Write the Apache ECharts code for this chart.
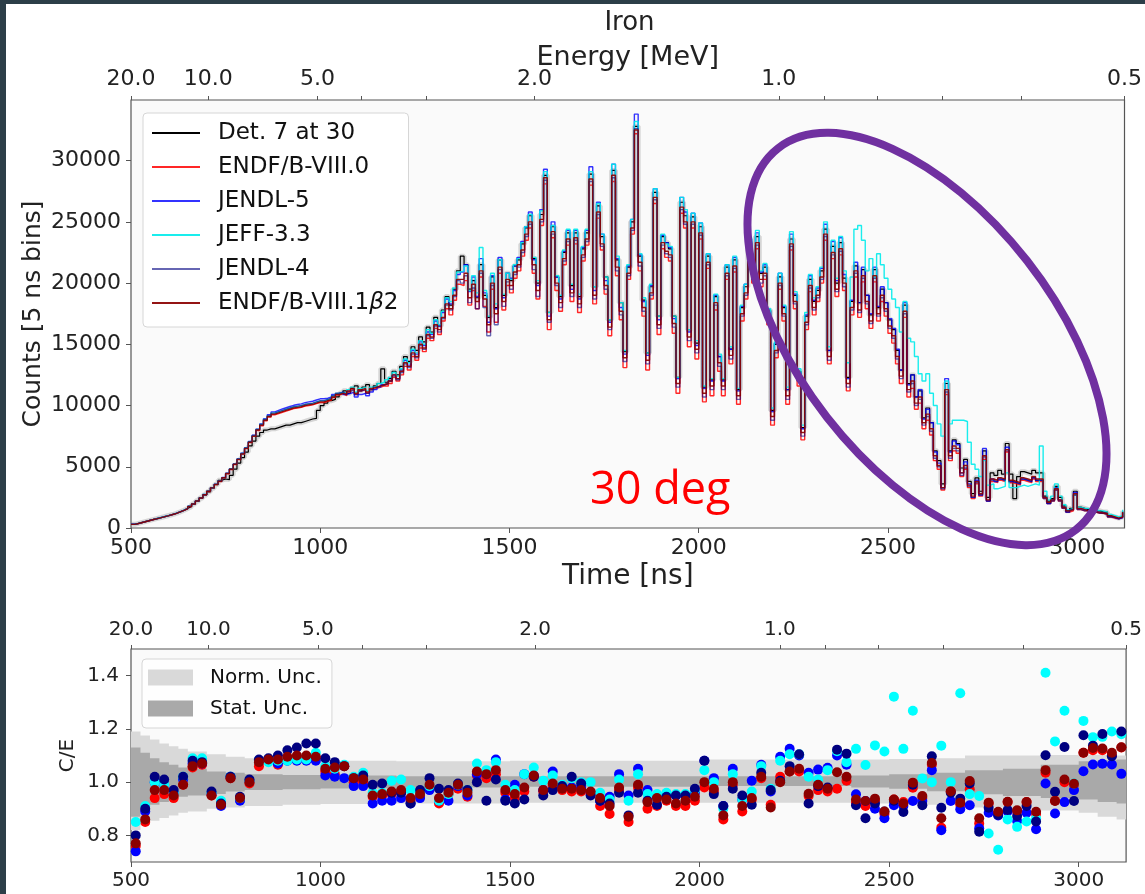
<!DOCTYPE html>
<html>
<head>
<meta charset="utf-8">
<script src="https://cdn.jsdelivr.net/npm/echarts@6/dist/echarts.min.js"></script>
<style>
html,body{margin:0;padding:0;background:#ffffff;}
#chart{width:1145px;height:894px;}
</style>
</head>
<body>
<div id="chart"></div>
<script>
// ---------------- DATA ----------------
// top panel: counts per bin, one value every 10 ns starting at 500 ns
const timeStart = 500;
const timeStep = 10;
const detCounts = [
300,380,460,540,620,700,780,860,940,1020,
1100,1200,1320,1450,1600,1750,1950,2200,2450,2700,
2950,3250,3550,3900,4000,3950,4300,4800,5300,5750,
6200,6700,7100,7500,7800,8000,8100,8100,8200,8300,
8400,8400,8500,8600,8600,8700,8800,8900,8950,9600,
10000,10200,10400,10500,10700,11000,11200,11000,11400,11600,
11200,11500,11700,11300,11600,11800,13000,11900,12200,12800,
12500,13200,14000,13600,14800,14500,15600,15200,16400,16000,
17200,16500,17800,18900,18200,19500,21000,22200,21500,19500,
20200,18800,21500,19000,17200,20500,18000,21900,19000,20800,
20200,21400,21900,23200,24500,25500,22000,20000,25600,28800,
17600,24600,20500,18900,22500,24100,19800,24100,18900,22800,
24100,28900,19700,26300,23800,20500,17000,29200,21900,18400,
14400,21300,25000,32800,22200,18600,14300,19700,27400,17300,
23800,23300,22800,17300,12300,26600,25500,16200,25400,15100,
24600,11500,22200,12100,18900,14000,12100,21300,14600,21900,
11300,18000,19700,23300,21000,23800,20800,21300,17800,9600,
15000,20500,18000,11300,23600,19000,12800,8200,17300,20300,
18500,19400,21000,24400,14500,23000,20000,23300,20400,12300,
18500,21400,18400,21100,19000,17400,21100,18000,19500,18400,
17000,16200,14500,12900,18200,11800,12500,10700,11200,9000,
9800,8600,6300,5500,3600,11800,6300,7200,6900,4900,
5600,3800,2800,4100,3000,6300,2500,4500,4300,4700,
4400,6900,4400,2400,4200,4600,4500,4400,4700,4500,
4500,2600,2200,2400,3400,2500,1800,1400,1600,3000,
1700,1600,1500,1500,1400,1400,1300,1300,1000,900,
800,900,1400];

const endf80Counts = [
300,370,450,530,610,690,770,850,930,1010,
1100,1200,1310,1440,1590,1760,1960,2200,2450,2720,
2980,3260,3540,3800,4080,4420,4780,5180,5580,6020,
6480,6980,7480,7950,8350,8750,9050,9250,9350,9450,
9550,9650,9750,9800,9850,9950,10000,10050,10150,10250,
10250,10350,10450,10650,10850,10950,10800,11100,11300,10900,
11200,11300,11000,11300,11400,11500,11600,11600,11800,12300,
12000,12500,13200,12900,14000,13700,14700,14400,15500,15300,
16300,15800,16900,17900,17400,18600,19900,19800,20200,18200,
19400,17900,20500,18100,16000,19500,16800,20800,17800,19800,
19200,20400,21000,22200,23500,24500,20800,18700,24700,28100,
16200,23700,19400,17700,21500,23100,18500,23200,17600,21800,
23100,28000,18300,25300,22700,19100,15700,28300,20600,17000,
13100,20300,24000,32200,21000,17300,12900,18700,26500,15800,
22800,22100,21800,15900,11000,25700,24500,14800,24500,13800,
23600,10300,21200,10800,17800,12800,10800,20300,13400,20900,
10100,16900,18700,22300,20000,22800,19700,20300,16600,8400,
13900,19500,16900,10100,22700,17900,11600,7200,16200,19300,
17400,18500,20000,23500,13400,22000,18900,22300,19400,11200,
17400,20500,17200,20100,17900,16300,20100,16900,18500,17300,
15900,15100,13400,11800,17200,10700,11400,9700,10200,8100,
8800,7600,5500,4800,3100,10900,5500,6300,6100,4200,
4800,3300,2400,3600,2600,5600,2200,3800,3700,3900,
3800,6200,3700,3600,3500,3900,3800,3700,4000,3800,
3800,2400,2000,2200,3100,2200,1600,1300,1400,2700,
1500,1400,1400,1300,1300,1200,1200,1100,900,800,
750,850,1250];

const jendl5Counts = [
310,380,460,540,620,700,780,860,940,1020,
1110,1210,1320,1450,1600,1770,1970,2210,2460,2730,
3010,3290,3570,3840,4120,4470,4830,5230,5640,6100,
6560,7060,7570,8070,8500,8920,9250,9480,9600,9720,
9820,9920,10020,10080,10140,10240,10300,10350,10450,10550,
10550,10600,10700,10900,11000,11100,10900,11000,11100,10700,
10900,11000,10800,11100,11300,11500,11700,11800,12000,12500,
12200,12900,13700,13300,14500,14200,15200,14900,16000,15800,
16900,16500,17600,18700,18300,19400,20700,20900,21500,19300,
20500,18900,22000,19200,16800,20600,17900,22100,18800,20800,
20400,21400,22100,23400,24600,25800,21900,19800,26000,29300,
17300,25000,20500,18700,22600,24300,19500,24300,18700,22900,
24300,29500,19400,26600,24000,20200,16800,29700,22000,18000,
14200,21400,25200,33800,22300,18500,14100,19800,27700,17000,
23900,23300,22900,17100,12200,27000,25800,16000,25700,14900,
24900,11400,22400,12000,19000,14000,12000,21500,14600,22100,
11200,18100,19900,23600,21100,24100,20900,21500,17700,9500,
15100,20800,18100,11300,24000,19100,12700,8100,17400,20600,
18600,19600,21200,24800,14500,23400,20200,23700,20700,12200,
18600,21700,18400,21300,19000,17500,21300,18100,19700,18400,
17100,16300,14600,12900,18400,11700,12500,10700,11300,8900,
9700,8600,6200,5300,3300,12200,6200,7100,6800,4500,
5400,3600,2500,3900,2700,6500,2200,4000,3800,4000,
3900,6600,3800,3700,3600,4000,3900,3800,4100,3900,
3900,2500,2000,2300,3300,2300,1700,1300,1500,2900,
1600,1500,1400,1400,1300,1300,1200,1200,950,850,
750,850,1300];

const jeff33Counts = [
300,380,460,540,620,700,780,860,940,1020,
1110,1210,1320,1450,1600,1770,1970,2210,2460,2730,
3000,3280,3560,3830,4110,4460,4820,5220,5620,6080,
6540,7040,7540,8040,8460,8860,9160,9380,9480,9580,
9680,9780,9880,9930,9980,10080,10130,10180,10280,10380,
10380,10480,10580,10780,10980,11080,11000,11300,11500,11100,
11400,11500,11200,11500,11600,11800,11900,12100,12300,12700,
12400,13000,13800,13500,14600,14300,15300,15000,16200,15900,
17000,16600,17700,18800,18500,19600,20900,21000,21400,19400,
20600,19200,22900,19400,17300,20800,18300,21900,19100,20800,
20300,21500,22000,23300,24600,25600,22100,20200,25900,29100,
17600,24700,20600,19000,22700,24400,19900,24400,19100,23000,
24400,29100,19700,26500,24000,20500,17000,29700,22200,18400,
14500,21500,25200,33200,22400,18800,14300,19900,27700,17300,
24000,23200,23000,17300,12300,27000,26000,16200,25700,15300,
24900,11600,22400,12200,19100,14200,12200,21500,14800,22200,
11400,18200,19900,23700,21200,24300,21000,21600,17900,9800,
15200,20800,18200,11500,24200,19300,13000,8400,17600,20700,
18800,19700,21300,25000,14800,23500,20400,23800,21000,13500,
20500,24400,24700,23500,21000,22000,20500,22400,21500,20400,
19500,18700,18000,16000,18500,15500,15200,14000,12600,12000,
12600,11000,10000,8500,7500,12000,8500,8800,8800,8800,
8700,7000,5200,4800,4200,5500,3500,3600,3200,3300,
3400,4500,3300,3300,3400,3500,3400,3500,3600,3500,
6700,3000,2300,2600,3600,2600,1900,1500,1600,2700,
1700,1600,1600,1500,1500,1400,1400,1300,1100,1000,
900,1000,1500];

const jendl4Counts = [
300,370,450,530,610,690,770,850,930,1010,
1100,1200,1310,1440,1590,1760,1960,2200,2450,2720,
3000,3280,3560,3830,4110,4460,4820,5220,5630,6080,
6540,7050,7550,8050,8450,8850,9150,9380,9500,9600,
9700,9800,9900,9950,10000,10100,10150,10200,10300,10400,
10400,10500,10600,10800,11000,11100,10950,11150,11300,10900,
11200,11300,11000,11300,11500,11600,11700,11800,12000,12400,
12100,12700,13400,13100,14200,13900,14900,14600,15700,15500,
16500,16000,17100,18200,17800,18900,20200,20000,20600,18400,
19600,17900,20800,18000,15700,19800,16600,21100,18100,20100,
19500,20700,21300,22500,23800,24800,21100,18900,25000,28400,
16800,24000,19800,18000,21800,23400,18900,23500,18000,22100,
23400,28300,18700,25600,23000,19500,16200,28600,21000,17400,
13600,20600,24300,32600,21400,17700,13400,19000,26800,16300,
23100,22400,22100,16400,11500,26000,24800,15300,24800,14300,
23900,10700,21500,11300,18200,13200,11300,20600,13800,21200,
10500,17300,19000,22600,20300,23100,20000,20600,17000,8800,
14300,19800,17300,10500,23000,18300,12000,7500,16600,19600,
17800,18800,20300,23800,13700,22300,19300,22600,19700,11500,
17800,20800,17600,20400,18300,16700,20400,17300,18800,17700,
16300,15500,13800,12200,17500,11100,11800,10000,10500,8400,
9100,7900,5700,5000,3200,11100,5700,6500,6300,4300,
4900,3400,2500,3700,2700,5800,2200,3900,3800,4000,
3900,6300,3800,3700,3600,4000,3900,3800,4100,3900,
3900,2400,2000,2200,3100,2200,1600,1300,1500,2700,
1500,1400,1400,1300,1300,1200,1200,1100,900,850,
750,850,1250];

const endf81b2Counts = [
300,370,450,530,610,690,770,850,930,1010,
1100,1200,1310,1440,1590,1760,1960,2200,2450,2720,
3000,3280,3560,3820,4100,4450,4800,5200,5600,6050,
6500,7000,7500,8000,8400,8800,9100,9300,9400,9500,
9600,9700,9800,9850,9900,10000,10050,10100,10200,10300,
10300,10400,10500,10700,10900,11000,10900,11200,11400,11000,
11300,11400,11100,11400,11500,11600,11700,11800,12000,12500,
12200,12800,13500,13200,14300,14000,15000,14700,15800,15600,
16600,16200,17200,18300,17900,19000,20300,20300,20800,18800,
19900,18500,21000,18700,16600,20000,17500,21300,18500,20300,
19800,20900,21500,22700,24000,25000,21500,19400,25200,28600,
17000,24200,20000,18400,22000,23600,19200,23700,18300,22300,
23600,28500,19000,25800,23200,19800,16400,28800,21300,17700,
13900,20800,24500,32500,21700,18000,13700,19200,27000,16600,
23300,22600,22300,16700,11800,26200,25000,15600,25000,14600,
24100,11000,21700,11600,18400,13500,11600,20800,14100,21400,
10800,17500,19200,22800,20500,23300,20300,20800,17300,9100,
14500,20000,17500,10800,23200,18500,12300,7800,16800,19800,
18000,19000,20500,24000,14000,22500,19500,22800,20000,11800,
18000,21000,17800,20600,18500,16900,20600,17500,19000,17900,
16500,15700,14000,12400,17700,11300,12000,10200,10700,8600,
9300,8100,5900,5100,3300,11300,5900,6700,6500,4500,
5100,3500,2600,3800,2800,5900,2300,4000,3900,4100,
4000,6400,3900,3800,3700,4100,4000,3900,4200,4000,
4000,2500,2100,2300,3200,2300,1700,1400,1500,2800,
1600,1500,1400,1400,1300,1300,1200,1200,1000,900,
800,900,1300];

// bottom panel: C/E per 25 ns bin, first bin starts at 500 ns
const ceBinStart = 500;
const ceBinWidth = 25;
const ceEndf80 = [0.76,0.85,0.94,0.955,0.94,0.99,1.055,1.065,0.95,0.915,
1.015,0.94,0.995,1.06,1.08,1.065,1.085,1.09,1.095,1.09,
1.04,1.03,1.06,1.0,1.0,0.945,0.95,0.955,0.96,0.93,
0.95,0.98,0.92,0.955,0.975,0.945,1.025,1.015,1.03,0.96,
0.94,0.965,1.02,0.965,0.985,0.97,0.965,0.965,0.955,0.91,
0.88,0.97,0.85,0.98,0.9,0.91,0.93,0.91,0.91,0.93,
0.98,0.965,0.86,0.99,0.89,0.935,1.015,0.915,1.02,1.04,
1.04,0.948,0.97,0.965,0.975,1.005,0.923,0.91,0.93,0.88,
0.935,0.925,0.979,0.94,1.065,0.829,0.965,0.915,0.973,0.845,
0.92,0.885,0.925,0.89,0.925,0.88,1.035,0.93,1.0,0.99,
1.11,1.12,1.12,1.1,1.13];
const ceJendl5 = [0.74,0.89,1.0,0.99,0.96,1.01,1.07,1.07,0.955,0.91,
1.02,0.93,1.005,1.08,1.085,1.07,1.08,1.08,1.08,1.08,
1.025,1.02,1.015,0.985,0.985,0.92,0.93,0.93,0.94,0.92,
0.94,0.97,0.93,0.93,0.985,0.95,1.03,1.03,1.085,0.935,
0.99,1.03,1.025,0.97,1.04,0.98,0.98,0.98,0.96,0.93,
0.945,1.03,0.95,1.05,0.97,0.945,0.955,0.95,0.95,0.96,
1.08,1.015,0.91,1.05,0.935,1.005,1.065,0.965,1.095,1.125,
1.1,1.035,1.047,1.054,1.1,1.065,0.954,0.929,0.9,0.864,
0.913,0.91,0.929,0.929,1.045,0.819,0.929,0.898,0.913,0.827,
0.885,0.875,0.89,0.854,0.885,0.823,0.995,0.882,0.925,0.97,
1.041,1.066,1.069,1.066,1.031];
const ceJeff33 = [0.85,0.91,1.0,0.99,0.96,1.02,1.09,1.09,0.96,0.93,
1.02,0.94,1.005,1.08,1.075,1.08,1.08,1.085,1.085,1.11,
1.06,1.05,1.065,1.02,1.035,0.96,0.96,1.005,1.01,0.97,
0.96,0.985,0.93,0.955,0.99,0.97,1.07,1.045,1.075,0.99,
0.97,1.03,1.055,1.005,1.025,0.99,1.015,1.0,1.0,0.96,
0.935,1.01,0.93,1.03,0.955,0.955,0.96,0.955,0.955,0.97,
1.045,1.0,0.9,1.03,0.935,0.965,1.06,0.975,1.08,1.105,
1.105,1.02,1.01,1.045,1.116,1.075,1.125,1.064,1.138,1.115,
1.321,1.125,1.268,1.014,1.0,1.137,1.0,1.334,0.955,0.948,
0.807,0.746,0.86,0.832,0.852,0.864,1.411,1.153,1.268,0.995,
1.23,1.169,1.17,1.19,1.18];
const ceJendl4 = [0.80,0.90,1.02,1.01,0.97,1.02,1.08,1.075,0.965,0.92,
1.02,0.945,1.01,1.085,1.09,1.10,1.12,1.13,1.145,1.145,
1.09,1.075,1.06,1.015,1.025,0.99,0.995,0.96,0.96,0.92,
0.97,1.015,0.975,0.97,0.995,0.97,1.0,0.93,1.01,0.93,
0.92,0.935,1.02,0.95,0.97,0.985,1.02,0.995,0.95,0.93,
0.92,0.96,0.875,0.96,0.93,0.915,0.945,0.95,0.95,0.975,
1.08,0.955,0.91,0.975,0.95,0.915,1.035,0.97,1.005,1.06,
1.105,0.92,0.985,0.98,1.122,1.107,0.913,0.864,0.92,0.89,
0.93,0.888,0.99,0.913,1.097,0.904,0.96,0.938,0.995,0.814,
0.904,0.877,0.895,0.873,0.91,0.852,1.101,0.964,1.132,0.929,
1.176,1.137,1.181,1.097,1.19];
const ceEndf81b2 = [0.77,0.86,0.97,0.97,0.95,0.99,1.06,1.07,0.95,0.915,
1.015,0.94,1.0,1.075,1.085,1.085,1.095,1.10,1.10,1.095,
1.05,1.055,1.06,1.015,1.01,0.95,0.955,0.965,0.97,0.94,
0.955,0.99,0.94,0.96,0.99,0.96,1.04,1.03,1.045,0.97,
0.955,0.98,1.025,0.97,0.995,0.975,0.975,0.97,0.965,0.94,
0.91,0.98,0.87,0.99,0.925,0.94,0.935,0.92,0.93,0.945,
1.0,0.975,0.875,1.0,0.91,0.94,1.02,0.905,1.0,1.04,
1.05,0.956,0.99,0.975,1.037,1.02,0.935,0.929,0.938,0.89,
0.935,0.92,0.998,0.948,1.072,0.864,0.966,0.923,1.004,0.864,
0.923,0.889,0.926,0.894,0.925,0.889,1.045,0.929,1.01,0.994,
1.11,1.128,1.126,1.11,1.131];

// uncertainty bands (C/E), value held from each listed time to the next
const bandTimes  = [500,525,550,575,600,625,650,700,750,800,900,1000,1200,1500,2000,2200,2400,2500,2600,2700,2800,2900,3000,3050,3100,3125];
const normHigh   = [1.19,1.175,1.16,1.145,1.135,1.125,1.115,1.105,1.095,1.09,1.085,1.08,1.078,1.08,1.085,1.085,1.085,1.087,1.09,1.10,1.10,1.102,1.103,1.103,1.10,1.10];
const normLow    = [0.82,0.84,0.855,0.865,0.875,0.885,0.89,0.90,0.905,0.91,0.915,0.918,0.92,0.923,0.923,0.923,0.92,0.918,0.915,0.905,0.90,0.893,0.885,0.87,0.86,0.86];
const statHigh   = [1.13,1.11,1.09,1.075,1.065,1.055,1.05,1.04,1.035,1.03,1.027,1.025,1.022,1.022,1.022,1.022,1.025,1.03,1.035,1.045,1.05,1.065,1.078,1.082,1.085,1.085];
const statLow    = [0.87,0.89,0.915,0.925,0.935,0.945,0.95,0.955,0.965,0.97,0.973,0.976,0.98,0.983,0.985,0.985,0.98,0.975,0.966,0.954,0.948,0.94,0.935,0.925,0.92,0.92];

// axes / tick labels
const timeMin = 500, timeMax = 3125;
const timeTicks = [500, 1000, 1500, 2000, 2500, 3000];
const countTicks = [0, 5000, 10000, 15000, 20000, 25000, 30000];
const ratioTicks = [0.8, 1.0, 1.2, 1.4];
const energyLabels = [20, 10, 5, 2, 1, 0.5];
const energyMinorTicks = [4, 3, 0.9, 0.8, 0.7, 0.6];

const seriesNames = ['Det. 7 at 30', 'ENDF/B-VIII.0', 'JENDL-5', 'JEFF-3.3', 'JENDL-4', 'ENDF/B-VIII.1β2'];

// ---------------- helpers ----------------
// neutron time-of-flight <-> energy (flight path constant read from the top axis)
const TOF_CONST = 2204.76, TOF_OFFSET = 7.0;
function energyToTime(E) {
  const t = TOF_CONST / Math.sqrt(E) + TOF_OFFSET;
  return Math.min(timeMax, Math.max(timeMin, Math.round(t * 100) / 100));
}
const energyLabelTimes = energyLabels.map(energyToTime);
const energyTickTimes = energyLabels.concat(energyMinorTicks).map(energyToTime);
function energyFormatter(v) {
  for (let i = 0; i < energyLabelTimes.length; i++) {
    if (Math.abs(energyLabelTimes[i] - v) < 0.6) return energyLabels[i].toFixed(1);
  }
  return '';
}
const pairs = arr => arr.map((v, i) => [timeStart + i * timeStep, v]);
const cePairs = arr => arr.map((v, i) => [ceBinStart + ceBinWidth * (i + 0.5), v]);

const FONT = 'DejaVu Sans';
const AX = '#555555';

const chart = echarts.init(document.getElementById('chart'), null, {renderer: 'canvas'});

function energyAxis(gridIndex, fontSize, margin, withName) {
  const ax = {
    type: 'value', gridIndex: gridIndex, position: 'top', min: timeMin, max: timeMax,
    axisLine: {show: false},
    splitLine: {show: false},
    axisTick: {show: true, length: 4, inside: false, customValues: energyTickTimes, lineStyle: {color: AX, width: 1}},
    axisLabel: {show: true, customValues: energyLabelTimes, formatter: energyFormatter, fontSize: fontSize, color: '#222', fontFamily: FONT, margin: margin}
  };
  if (withName) {
    ax.name = 'Energy [MeV]';
    ax.nameLocation = 'middle';
    ax.nameGap = 29;
    ax.nameMoveOverlap = false;
    ax.nameTextStyle = {fontSize: 27, color: '#222', fontFamily: FONT};
  }
  return ax;
}

function timeAxis(gridIndex, fontSize, margin, withName) {
  const ax = {
    type: 'value', gridIndex: gridIndex, position: 'bottom', min: timeMin, max: timeMax,
    axisLine: {show: false},
    splitLine: {show: false},
    axisTick: {show: true, length: 5, customValues: timeTicks, lineStyle: {color: AX, width: 1}},
    axisLabel: {show: true, customValues: timeTicks, formatter: v => String(v), fontSize: fontSize, color: '#222', fontFamily: FONT, margin: margin}
  };
  if (withName) {
    ax.name = 'Time [ns]';
    ax.nameLocation = 'middle';
    ax.nameGap = 35;
    ax.nameMoveOverlap = false;
    ax.nameTextStyle = {fontSize: 28, color: '#222', fontFamily: FONT};
  }
  return ax;
}

// step-shaped band polygon drawn through the axis scales
function bandSeries(name, color, high, low) {
  return {
    name: name, type: 'custom', xAxisIndex: 2, yAxisIndex: 1, silent: true, clip: true,
    itemStyle: {color: color}, color: color,
    data: [[bandTimes[0], high[0]]],
    renderItem: function (params, api) {
      const pts = [];
      for (let i = 0; i < bandTimes.length - 1; i++) {
        pts.push(api.coord([bandTimes[i], high[i]]));
        pts.push(api.coord([bandTimes[i + 1], high[i]]));
      }
      for (let i = bandTimes.length - 2; i >= 0; i--) {
        pts.push(api.coord([bandTimes[i + 1], low[i]]));
        pts.push(api.coord([bandTimes[i], low[i]]));
      }
      return {type: 'polygon', shape: {points: pts}, style: {fill: color, stroke: null}};
    }
  };
}

const lineColors = ['#000000', 'rgba(255,0,0,0.85)', 'rgba(0,0,255,0.8)', 'rgba(0,235,235,0.9)', 'rgba(0,0,128,0.6)', 'rgba(139,0,0,0.92)'];
const countArrays = [detCounts, endf80Counts, jendl5Counts, jeff33Counts, jendl4Counts, endf81b2Counts];
const dotColors = ['#ff0000', '#0000ff', '#00ffff', '#000080', '#8b0000'];
const ceArrays = [ceEndf80, ceJendl5, ceJeff33, ceJendl4, ceEndf81b2];

const series = [];
// experimental uncertainty halo
series.push({
  name: 'det-unc', type: 'line', xAxisIndex: 0, yAxisIndex: 0, step: 'end', symbol: 'none',
  data: pairs(detCounts), silent: true,
  lineStyle: {color: 'rgba(120,120,120,0.28)', width: 5}
});
countArrays.forEach((arr, i) => {
  series.push({
    name: seriesNames[i], type: 'line', xAxisIndex: 0, yAxisIndex: 0, step: 'end', symbol: 'none',
    showSymbol: false, data: pairs(arr),
    color: lineColors[i],
    lineStyle: {color: lineColors[i], width: i === 0 ? 1.2 : 1.4}
  });
});

series.push(bandSeries('Norm. Unc.', '#d9d9d9', normHigh, normLow));
series.push(bandSeries('Stat. Unc.', '#a9a9a9', statHigh, statLow));

ceArrays.forEach((arr, i) => {
  series.push({
    name: 'ce-' + seriesNames[i + 1], type: 'scatter', xAxisIndex: 2, yAxisIndex: 1,
    data: cePairs(arr), symbol: 'circle', symbolSize: 10,
    itemStyle: {color: dotColors[i], opacity: 1}
  });
});

const option = {
  animation: false,
  backgroundColor: '#ffffff',
  textStyle: {fontFamily: FONT},
  grid: [
    {left: 131, top: 100, width: 997, height: 428, show: true, backgroundColor: '#fafafa', borderColor: AX, borderWidth: 1.2, containLabel: false},
    {left: 131, top: 649, width: 997, height: 213, show: true, backgroundColor: '#fafafa', borderColor: AX, borderWidth: 1.2, containLabel: false}
  ],
  xAxis: [
    timeAxis(0, 22, 9, true),
    energyAxis(0, 22, 10, true),
    timeAxis(1, 20, 9, false),
    energyAxis(1, 20, 9, false)
  ],
  yAxis: [
    {type: 'value', gridIndex: 0, min: 0, max: 34950,
     name: 'Counts [5 ns bins]', nameLocation: 'middle', nameGap: 85, nameMoveOverlap: false,
     nameTextStyle: {fontSize: 25, color: '#222', fontFamily: FONT},
     axisLine: {show: false}, splitLine: {show: false},
     axisTick: {show: true, length: 5, customValues: countTicks, lineStyle: {color: AX}},
     axisLabel: {customValues: countTicks, formatter: v => String(v), fontSize: 22, color: '#222', fontFamily: FONT, margin: 10}},
    {type: 'value', gridIndex: 1, min: 0.7, max: 1.5,
     name: 'C/E', nameLocation: 'middle', nameGap: 53, nameMoveOverlap: false,
     nameTextStyle: {fontSize: 20, color: '#222', fontFamily: FONT},
     axisLine: {show: false}, splitLine: {show: false},
     axisTick: {show: true, length: 5, customValues: ratioTicks, lineStyle: {color: AX}},
     axisLabel: {customValues: ratioTicks, formatter: v => v.toFixed(1), fontSize: 20, color: '#222', fontFamily: FONT, margin: 12}}
  ],
  legend: [
    {
      data: seriesNames, orient: 'vertical', left: 143, top: 113,
      padding: [8, 10, 12, 9], itemGap: 10, itemWidth: 48, itemHeight: 2,
      icon: 'rect',
      backgroundColor: 'rgba(255,255,255,0.85)', borderColor: '#d6d6d6', borderWidth: 1, borderRadius: 4,
      selectedMode: false,
      formatter: n => n.replace('β', '{it|β}'),
      textStyle: {fontSize: 23, color: '#111', fontFamily: FONT, lineHeight: 24, padding: [0, 0, 0, 13],
        rich: {it: {fontStyle: 'italic', fontSize: 23, fontFamily: FONT, color: '#111', lineHeight: 24}}}
    },
    {
      data: ['Norm. Unc.', 'Stat. Unc.'], orient: 'vertical', left: 142, top: 659,
      padding: [8, 10, 9, 6], itemGap: 10, itemWidth: 45, itemHeight: 16,
      icon: 'rect', selectedMode: false,
      backgroundColor: 'rgba(255,255,255,0.8)', borderColor: '#d6d6d6', borderWidth: 1, borderRadius: 4,
      textStyle: {fontSize: 20, color: '#111', fontFamily: FONT, lineHeight: 21, padding: [0, 0, 0, 12]}
    }
  ],
  graphic: [
    {type: 'rect', left: 0, top: 0, shape: {width: 1145, height: 4}, style: {fill: '#2c3e48'}, z: 200, silent: true},
    {type: 'rect', left: 0, top: 0, shape: {width: 6, height: 894}, style: {fill: '#2c3e48'}, z: 200, silent: true},
    {type: 'text', x: 629.5, y: 23, z: 100, style: {text: 'Iron', font: '26px "DejaVu Sans"', fill: '#222', textAlign: 'center', textVerticalAlign: 'middle'}},
    {type: 'text', x: 590, y: 491, z: 100, style: {text: '30 deg', font: '45px "Open Sans"', fill: '#ff0000', textAlign: 'left', textVerticalAlign: 'middle'}},
    {type: 'ellipse', x: 927, y: 339, rotation: -52 * Math.PI / 180, z: 150, silent: true,
     shape: {cx: 0, cy: 0, rx: 242, ry: 127},
     style: {fill: 'none', stroke: '#7030a0', lineWidth: 8}}
  ],
  series: series
};
chart.setOption(option);
</script>
</body>
</html>
